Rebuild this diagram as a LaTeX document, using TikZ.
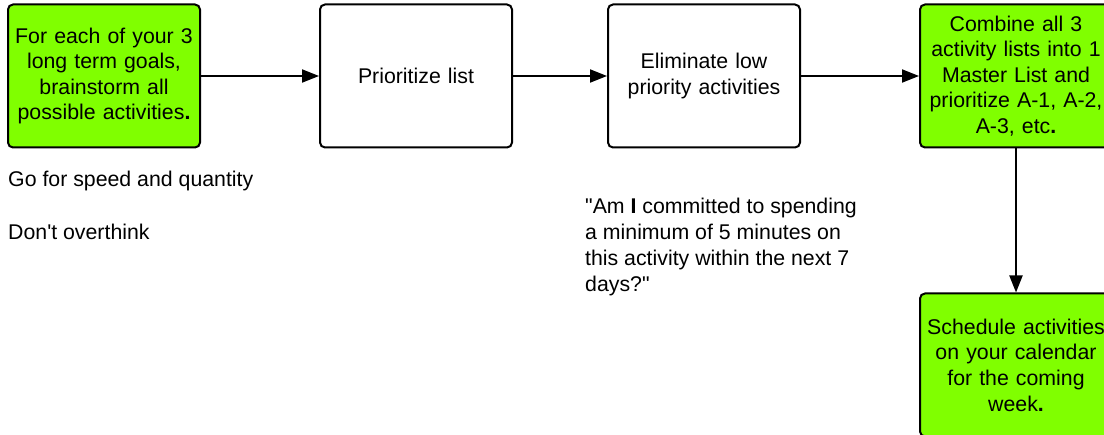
\documentclass[tikz,border=0pt]{standalone}
\usepackage{fontspec}
\setmainfont{Liberation Sans}
\usetikzlibrary{arrows.meta,positioning}
\definecolor{goalgreen}{RGB}{128,255,0}

\begin{document}
\begin{tikzpicture}[
  x=1pt, y=-1pt,
  box/.style={rectangle, draw, line width=2pt, rounded corners=5pt, minimum width=192pt, minimum height=143pt, align=center, text width=186pt, inner sep=0pt, font=\fontsize{21.3}{25.6}\selectfont},
  note/.style={align=left, inner sep=0pt, font=\fontsize{21.3}{26}\selectfont},
  arr/.style={-{Triangle[length=17pt, width=13pt]}, line width=2pt}
]
\useasboundingbox (0,0) rectangle (1104,435);

% Top row of steps
\node[box, fill=goalgreen] (brainstorm) at (104,76) {For each of your 3\\long term goals,\\brainstorm all\\possible activities\textbf{.}\\[12pt]};
\node[box] (prioritize) at (416,76) {Prioritize list};
\node[box] (eliminate) at (704,76) {Eliminate low\\priority activities};
\node[box, fill=goalgreen] (combine) at (1016,76) {Combine all 3\\activity lists into 1\\Master List and\\prioritize A-1, A-2,\\A-3, etc\textbf{.}};

% Last step
\node[box, fill=goalgreen] (schedule) at (1016,365) {Schedule activities\\on your calendar\\for the coming\\week\textbf{.}};

% Notes
\node[note, anchor=west] (speed) at (8,181) {Go for speed and quantity};
\node[note, anchor=west] (overthink) at (8,232) {Don\textquotesingle t overthink};
\node[note, anchor=west] (question) at (585,247) {\textquotedbl Am \textbf{I} committed to spending\\a minimum of 5 minutes on\\this activity within the next 7\\days?\textquotedbl};

% Connectors
\draw[arr] (brainstorm) -- (prioritize);
\draw[arr] (prioritize) -- (eliminate);
\draw[arr] (eliminate) -- (combine);
\draw[arr] (combine) -- (schedule);

\end{tikzpicture}
\end{document}
